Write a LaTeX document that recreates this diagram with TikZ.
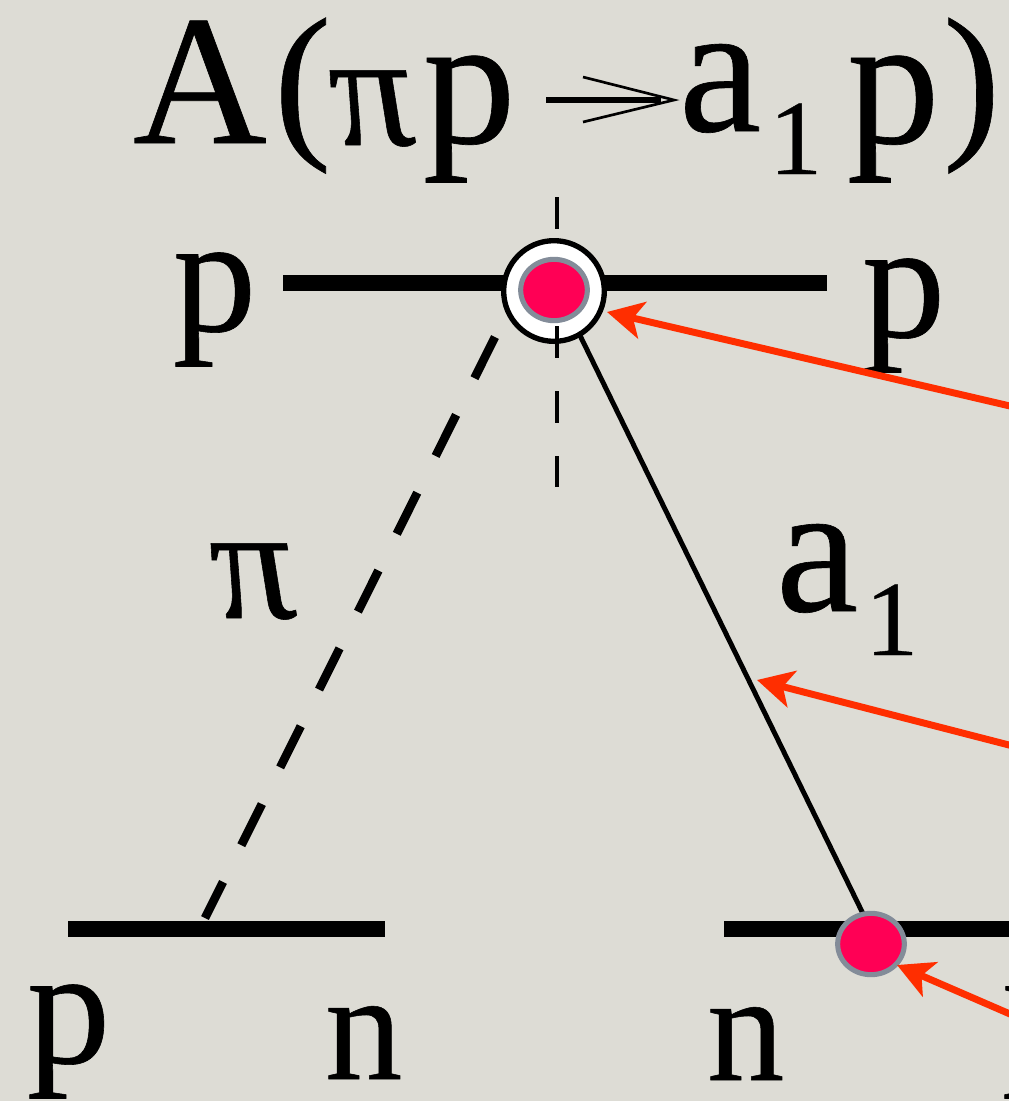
\documentclass[tikz,border=0pt]{standalone}
\usepackage{fontspec}
\setmainfont[FakeBold=0.35]{Liberation Serif}
\newfontfamily\pifont[FakeBold=0.35,FakeSlant=-0.16]{Liberation Serif}
\usetikzlibrary{shapes.geometric,arrows.meta}
\definecolor{bgc}{HTML}{DDDCD5}
\definecolor{redarrow}{HTML}{FF2E00}
\definecolor{dotred}{HTML}{FF0055}
\definecolor{dotgray}{HTML}{838C99}
\tikzset{
  glyph/.style={anchor=base west,inner sep=0pt,outer sep=0pt},
  huge/.style={glyph,font=\fontsize{139}{150}\selectfont},
  paren/.style={glyph,font=\fontsize{129}{140}\selectfont},
  big/.style={glyph,font=\fontsize{125}{140}\selectfont},
  en/.style={glyph,font=\fontsize{116}{130}\selectfont},
  pisym/.style={glyph,font=\fontsize{122}{130}\selectfont\pifont},
  sub/.style={glyph,font=\fontsize{80}{90}\selectfont},
  baryon/.style={line width=12pt},
  pionline/.style={line width=6.5pt,dash pattern=on 34.5pt off 30.75pt},
  axisline/.style={line width=3.6pt,dash pattern=on 24pt off 24.75pt},
  aline/.style={line width=3.7pt},
  ptr/.style={redarrow,line width=5.2pt,-{Stealth[length=27pt,width=28pt,inset=7pt]}},
  dot/.style={ellipse,draw=dotgray,fill=dotred,line width=3.8pt,minimum width=50pt,minimum height=46pt,inner sep=0pt},
  ring/.style={circle,draw=black,fill=white,line width=4pt,minimum size=75.5pt,inner sep=0pt},
}
\begin{document}
\begin{tikzpicture}[x=0.75pt,y=-0.75pt]
\useasboundingbox (0,0) rectangle (1009,1101);
\clip (0,0) rectangle (1009,1101);
\fill[bgc] (0,0) rectangle (1009,1101);
% title
\node[huge] (tA) at (133,143) {A};
\node[paren] (tlp) at (274,137) {(};
\node[pisym] (tpi) at (338,145) {π};
\node[huge] (tp) at (423,143) {p};
\coordinate (as) at (546,100);
\coordinate (at) at (674,100);
\coordinate (ab1) at (583,77);
\coordinate (ab2) at (583,122);
\draw[line width=4.5pt,shorten >=10pt] (as) -- (at);
\draw[line width=2pt,line join=miter] (ab1) -- (at) -- (ab2);
\node[huge] (ta) at (679,131) {a};
\node[sub] (t1) at (769,174) {1};
\node[huge] (tq) at (847,143) {p};
\node[paren] (trp) at (943,137) {)};
% coordinates
\coordinate (topL) at (283,283);
\coordinate (topR) at (827,283);
\coordinate (blL) at (68,929);
\coordinate (blR) at (385,929);
\coordinate (brL) at (724,929);
\coordinate (brR) at (1030,929);
\coordinate (pi1) at (495,337);
\coordinate (pi2) at (205,918);
\coordinate (a1s) at (570,315);
\coordinate (a1e) at (871,930);
\coordinate (axT) at (557,197);
\coordinate (axTe) at (557,229);
\coordinate (axM) at (557,326);
\coordinate (axB) at (557,487);
% lines
\draw[baryon] (topL) -- (topR);
\draw[baryon] (blL) -- (blR);
\draw[baryon] (brL) -- (brR);
\draw[pionline] (pi1) -- (pi2);
\draw[aline] (a1s) -- (a1e);
\draw[line width=3.6pt] (axT) -- (axTe);
\node[ring] (vtx) at (554,291) {};
\node[dot] (vtxdot) at (554,290) {};
\draw[axisline] (axM) -- (axB);
\node[dot] (ndot) at (871,944) {};
% labels
\node[big] (lp1) at (173,331) {p};
\node[big] (lp2) at (862,337) {p};
\node[pisym] (lpi) at (219,618) {π};
\node[huge] (la) at (776,611) {a};
\node[sub] (l1) at (865,655) {1};
\node[big] (lp3) at (27,1063) {p};
\node[en] (ln1) at (325,1079) {n};
\node[en] (ln2) at (707,1080) {n};
\node[big] (lp4) at (1002,1063) {p};
% arrows
\coordinate (r1s) at (1040,413);
\coordinate (r1t) at (607,312);
\coordinate (r2s) at (1040,753);
\coordinate (r2t) at (757,680);
\coordinate (r3s) at (1040,1027);
\coordinate (r3t) at (897,965);
\draw[ptr] (r1s) -- (r1t);
\draw[ptr] (r2s) -- (r2t);
\draw[ptr] (r3s) -- (r3t);
\end{tikzpicture}
\end{document}
